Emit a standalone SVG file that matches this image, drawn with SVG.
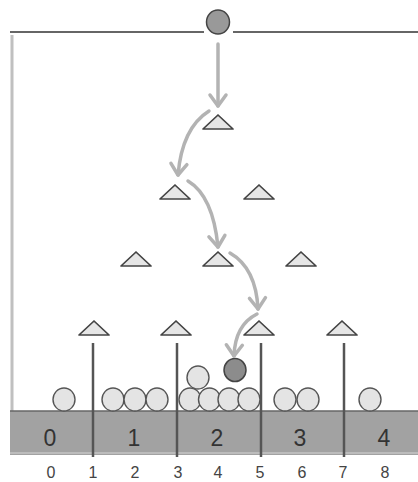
<svg xmlns="http://www.w3.org/2000/svg" xmlns:xlink="http://www.w3.org/1999/xlink" width="418" height="482" viewBox="0 0 418 482">
<style>
.peg{fill:#e6e6e6;stroke:#444;stroke-width:1.7;stroke-linejoin:round}
.ball{fill:#e4e4e4;stroke:#555;stroke-width:1.4}
.dark{fill:#8c8c8c;stroke:#444;stroke-width:1.5}
.path{fill:none;stroke:#b3b3b3;stroke-width:3.5;stroke-linecap:round}
.div{stroke:#555;stroke-width:2.5}
.bin{font-family:"Liberation Sans",Arial,sans-serif;font-size:23px;fill:#333;text-anchor:middle}
.lab{font-family:"Liberation Sans",Arial,sans-serif;font-size:16px;fill:#444;text-anchor:middle}
</style>
<defs>
<path id="tri" d="M0,0 L-15,14 L15,14 Z"/>
<marker id="chev" markerUnits="userSpaceOnUse" markerWidth="30" markerHeight="30" viewBox="-15 -15 30 30" refX="0" refY="0" orient="auto">
<path d="M-11,-8 L0,0 L-11,8" fill="none" stroke="#b3b3b3" stroke-width="3.5" stroke-linecap="round" stroke-linejoin="round"/>
</marker>
</defs>
<rect width="418" height="482" fill="#fff"/>
<g id="frame">
<line x1="10" y1="32" x2="204" y2="32" stroke="#666" stroke-width="2"/>
<line x1="233" y1="32" x2="418" y2="32" stroke="#666" stroke-width="2"/>
<line x1="12" y1="35" x2="12" y2="411" stroke="#c0c0c0" stroke-width="3"/>
<rect x="10" y="411" width="408" height="44" fill="#a2a2a2"/>
<line x1="10" y1="411" x2="418" y2="411" stroke="#666" stroke-width="1.5"/>
<line x1="10" y1="453" x2="418" y2="453" stroke="#c4c4c4" stroke-width="1.5"/>
</g>
<g id="dividers">
<line class="div" x1="93" y1="343" x2="93" y2="457"/>
<line class="div" x1="177" y1="343" x2="177" y2="457"/>
<line class="div" x1="261" y1="343" x2="261" y2="457"/>
<line class="div" x1="344" y1="343" x2="344" y2="457"/>
</g>
<g id="drop-ball"><ellipse class="dark" cx="218" cy="22" rx="11.5" ry="12" style="fill:#999"/></g>
<g id="peg-1-1"><use xlink:href="#tri" class="peg" x="218" y="115"/></g>
<g id="peg-2-1"><use xlink:href="#tri" class="peg" x="175" y="185"/></g>
<g id="peg-2-2"><use xlink:href="#tri" class="peg" x="259" y="185"/></g>
<g id="peg-3-1"><use xlink:href="#tri" class="peg" x="136" y="252"/></g>
<g id="peg-3-2"><use xlink:href="#tri" class="peg" x="218" y="252"/></g>
<g id="peg-3-3"><use xlink:href="#tri" class="peg" x="301" y="252"/></g>
<g id="peg-4-1"><use xlink:href="#tri" class="peg" x="94" y="321"/></g>
<g id="peg-4-2"><use xlink:href="#tri" class="peg" x="176" y="321"/></g>
<g id="peg-4-3"><use xlink:href="#tri" class="peg" x="259" y="321"/></g>
<g id="peg-4-4"><use xlink:href="#tri" class="peg" x="342" y="321"/></g>
<g id="balls">
<ellipse class="ball" cx="64" cy="399.5" rx="11" ry="11.5"/>
<ellipse class="ball" cx="113" cy="399.5" rx="11" ry="11.5"/>
<ellipse class="ball" cx="135" cy="399.5" rx="11" ry="11.5"/>
<ellipse class="ball" cx="157" cy="399.5" rx="11" ry="11.5"/>
<ellipse class="ball" cx="190" cy="399.5" rx="11" ry="11.5"/>
<ellipse class="ball" cx="209.5" cy="399.5" rx="11" ry="11.5"/>
<ellipse class="ball" cx="229" cy="399.5" rx="11" ry="11.5"/>
<ellipse class="ball" cx="249" cy="399.5" rx="11" ry="11.5"/>
<ellipse class="ball" cx="198" cy="377.5" rx="11" ry="11.5"/>
<ellipse class="ball" cx="285" cy="399.5" rx="11" ry="11.5"/>
<ellipse class="ball" cx="308" cy="399.5" rx="11" ry="11.5"/>
<ellipse class="ball" cx="370" cy="399.5" rx="11" ry="11.5"/>
</g>
<g id="falling-ball"><ellipse class="dark" cx="235" cy="370" rx="11" ry="11.5"/></g>
<g id="connectors">
<path class="path" d="M218,44 L218,106" marker-end="url(#chev)"/>
<path class="path" d="M209,111 Q182,128 178,175" marker-end="url(#chev)"/>
<path class="path" d="M188,181 Q213,196 218,247" marker-end="url(#chev)"/>
<path class="path" d="M230,253 Q256,268 258,309" marker-end="url(#chev)"/>
<path class="path" d="M257,314 Q235,325 234,356" marker-end="url(#chev)"/>
</g>
<g id="bin-labels">
<text class="bin" x="50" y="446">0</text>
<text class="bin" x="134" y="446">1</text>
<text class="bin" x="217" y="446">2</text>
<text class="bin" x="300" y="446">3</text>
<text class="bin" x="384" y="446">4</text>
</g>
<g id="axis-labels">
<text class="lab" x="51" y="478">0</text>
<text class="lab" x="93" y="478">1</text>
<text class="lab" x="135" y="478">2</text>
<text class="lab" x="178" y="478">3</text>
<text class="lab" x="218" y="478">4</text>
<text class="lab" x="260" y="478">5</text>
<text class="lab" x="302" y="478">6</text>
<text class="lab" x="343" y="478">7</text>
<text class="lab" x="385" y="478">8</text>
</g>
</svg>
